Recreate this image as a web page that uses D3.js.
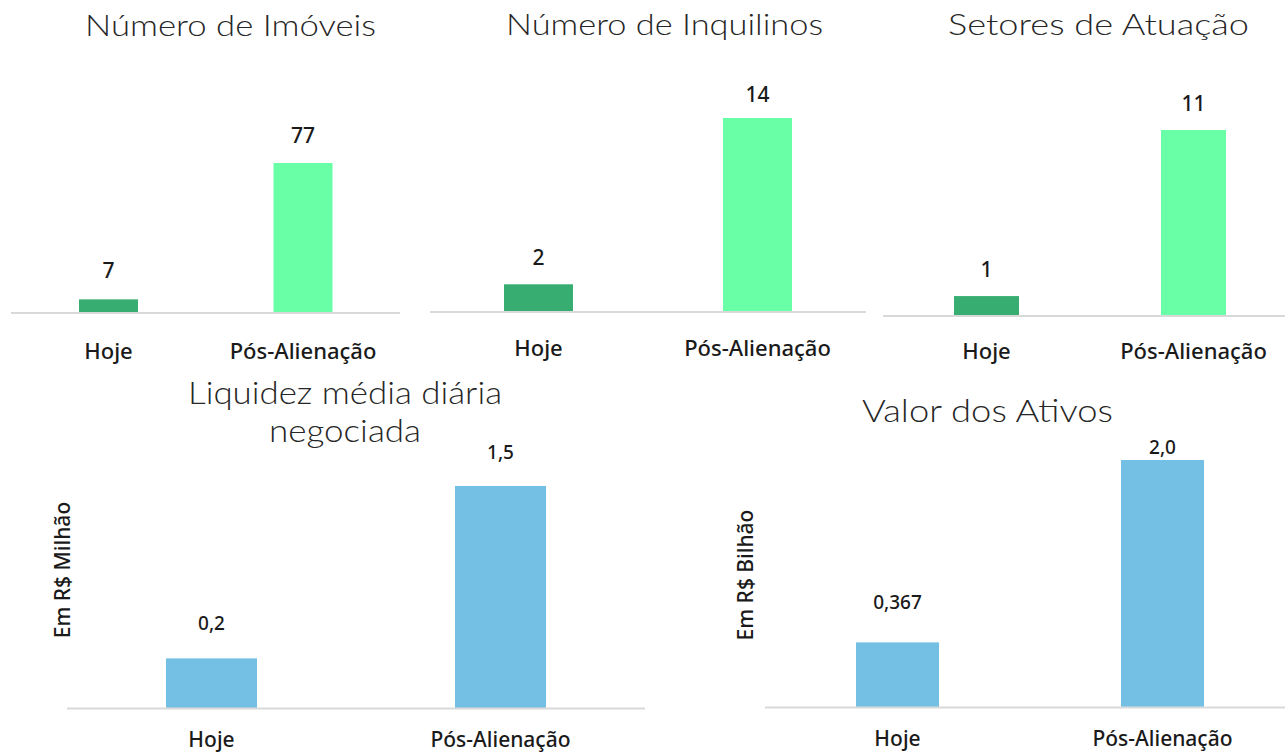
<!DOCTYPE html>
<html>
<head>
<meta charset="utf-8">
<script src="https://cdn.jsdelivr.net/npm/d3@7"></script>
<style>
  html, body { margin: 0; padding: 0; background: #ffffff; }
  svg { display: block; }
</style>
</head>
<body>
<svg id="chart" width="1285" height="754"></svg>
<script>
// ---------- DATA ----------
const categories = ["Hoje", "Pós-Alienação"];
const imoveis = [7, 77];
const inquilinos = [2, 14];
const setores = [1, 11];
const liquidez = [0.2, 1.5];
const valorAtivos = [0.367, 2.0];
const liquidezLabels = ["0,2", "1,5"];
const valorLabels = ["0,367", "2,0"];
const titles = [
  ["Número de Imóveis"],
  ["Número de Inquilinos"],
  ["Setores de Atuação"],
  ["Liquidez média diária", "negociada"],
  ["Valor dos Ativos"]
];
const yTitles = ["", "", "", "Em R$ Milhão", "Em R$ Bilhão"];

// ---------- LAYOUT ----------
const DARK_GREEN = "#37ad72", LIGHT_GREEN = "#69ffa6", BLUE = "#74c0e4";
const panels = [
  { values: imoveis, labels: imoveis.map(String), colors: [DARK_GREEN, LIGHT_GREEN],
    centers: [108.5, 303], barW: 59, base: 313, top: 163, min: 0,
    axis: [11, 400], labOff: [29, 28], catY: 350, titleX: 230.5, titleY: [24], titleW: [291], bottom: false },
  { values: inquilinos, labels: inquilinos.map(String), colors: [DARK_GREEN, LIGHT_GREEN],
    centers: [538.5, 757.5], barW: 69, base: 312, top: 118, min: 0,
    axis: [430, 866], labOff: [27, 24], catY: 347, titleX: 664.5, titleY: [23], titleW: [317], bottom: false },
  { values: setores, labels: setores.map(String), colors: [DARK_GREEN, LIGHT_GREEN],
    centers: [986.5, 1193.5], barW: 65, base: 316, top: 130, min: -0.2,
    axis: [883, 1285], labOff: [27, 27], catY: 350, titleX: 1098.5, titleY: [23], titleW: [301], bottom: false },
  { values: liquidez, labels: liquidezLabels, colors: [BLUE, BLUE],
    centers: [211.5, 500.5], barW: 91, base: 708.5, top: 486, min: -0.178,
    axis: [67, 645], labOff: [35, 34], catY: 739, titleX: 345, titleY: [391, 429], titleW: [314, 152],
    yTitleX: 62, yTitleY: 570, bottom: true },
  { values: valorAtivos, labels: valorLabels, colors: [BLUE, BLUE],
    centers: [897.5, 1162.5], barW: 83, base: 707.5, top: 460, min: -0.216,
    axis: [765, 1285], labOff: [40, 13], catY: 738, titleX: 987.5, titleY: [409], titleW: [251],
    yTitleX: 745, yTitleY: 575, bottom: true }
];

const svg = d3.select("#chart");

panels.forEach((p, pi) => {
  const g = svg.append("g");
  const s = p.centers[1] - p.centers[0];
  const inner = 1 - p.barW / s;
  const x = d3.scaleBand().domain(categories)
    .range([p.centers[0] - s / 2, p.centers[1] + s / 2])
    .paddingInner(inner).paddingOuter(inner / 2);
  const y = d3.scaleLinear().domain([p.min, d3.max(p.values)]).range([p.base, p.top]);

  // bars
  g.selectAll("rect.bar").data(p.values).join("rect")
    .attr("class", "bar")
    .attr("x", (d, i) => x(categories[i]))
    .attr("width", x.bandwidth())
    .attr("y", d => y(d))
    .attr("height", d => y(p.min) - y(d))
    .attr("fill", (d, i) => p.colors[i]);

  // baseline axis
  const axisG = g.append("g").attr("transform", `translate(0,${p.base})`)
    .call(d3.axisBottom(x).tickSize(0).tickPadding(0).tickFormat(""));
  axisG.select(".domain").attr("d", `M${p.axis[0]},0H${p.axis[1]}`)
    .attr("stroke", "#d9d9d9").attr("stroke-width", 2);

  // value labels
  g.selectAll("text.val").data(p.values).join("text")
    .attr("class", "val")
    .attr("x", (d, i) => x(categories[i]) + x.bandwidth() / 2)
    .attr("y", (d, i) => y(d) - p.labOff[i])
    .attr("text-anchor", "middle")
    .attr("dominant-baseline", "central")
    .attr("font-family", "'Noto Sans', sans-serif")
    .attr("font-size", p.bottom ? 19 : 21)
    .attr("font-weight", 500)
    .attr("fill", "#1a1a1a")
    .text((d, i) => p.labels[i]);

  // category labels
  g.selectAll("text.cat").data(categories).join("text")
    .attr("class", "cat")
    .attr("x", d => x(d) + x.bandwidth() / 2)
    .attr("y", p.catY)
    .attr("text-anchor", "middle")
    .attr("dominant-baseline", "central")
    .attr("font-family", "'Noto Sans', sans-serif")
    .attr("font-size", p.bottom ? 21 : 22)
    .attr("font-weight", 500)
    .attr("fill", "#1a1a1a")
    .text(d => d);

  // title
  titles[pi].forEach((t, li) => {
    g.append("text")
      .attr("x", p.titleX)
      .attr("y", p.titleY[li])
      .attr("text-anchor", "middle")
      .attr("dominant-baseline", "central")
      .attr("font-family", "Lato, sans-serif")
      .attr("font-size", p.bottom ? 32 : 29)
      .attr("font-weight", 300)
      .attr("textLength", p.titleW[li])
      .attr("lengthAdjust", "spacingAndGlyphs")
      .attr("fill", "#262626")
      .text(t);
  });

  // y-axis title
  if (yTitles[pi]) {
    g.append("text")
      .attr("transform", `translate(${p.yTitleX},${p.yTitleY}) rotate(-90)`)
      .attr("text-anchor", "middle")
      .attr("dominant-baseline", "central")
      .attr("font-family", "'Noto Sans', sans-serif")
      .attr("font-size", 21)
      .attr("font-weight", 500)
      .attr("fill", "#1a1a1a")
      .text(yTitles[pi]);
  }
});
</script>
</body>
</html>
